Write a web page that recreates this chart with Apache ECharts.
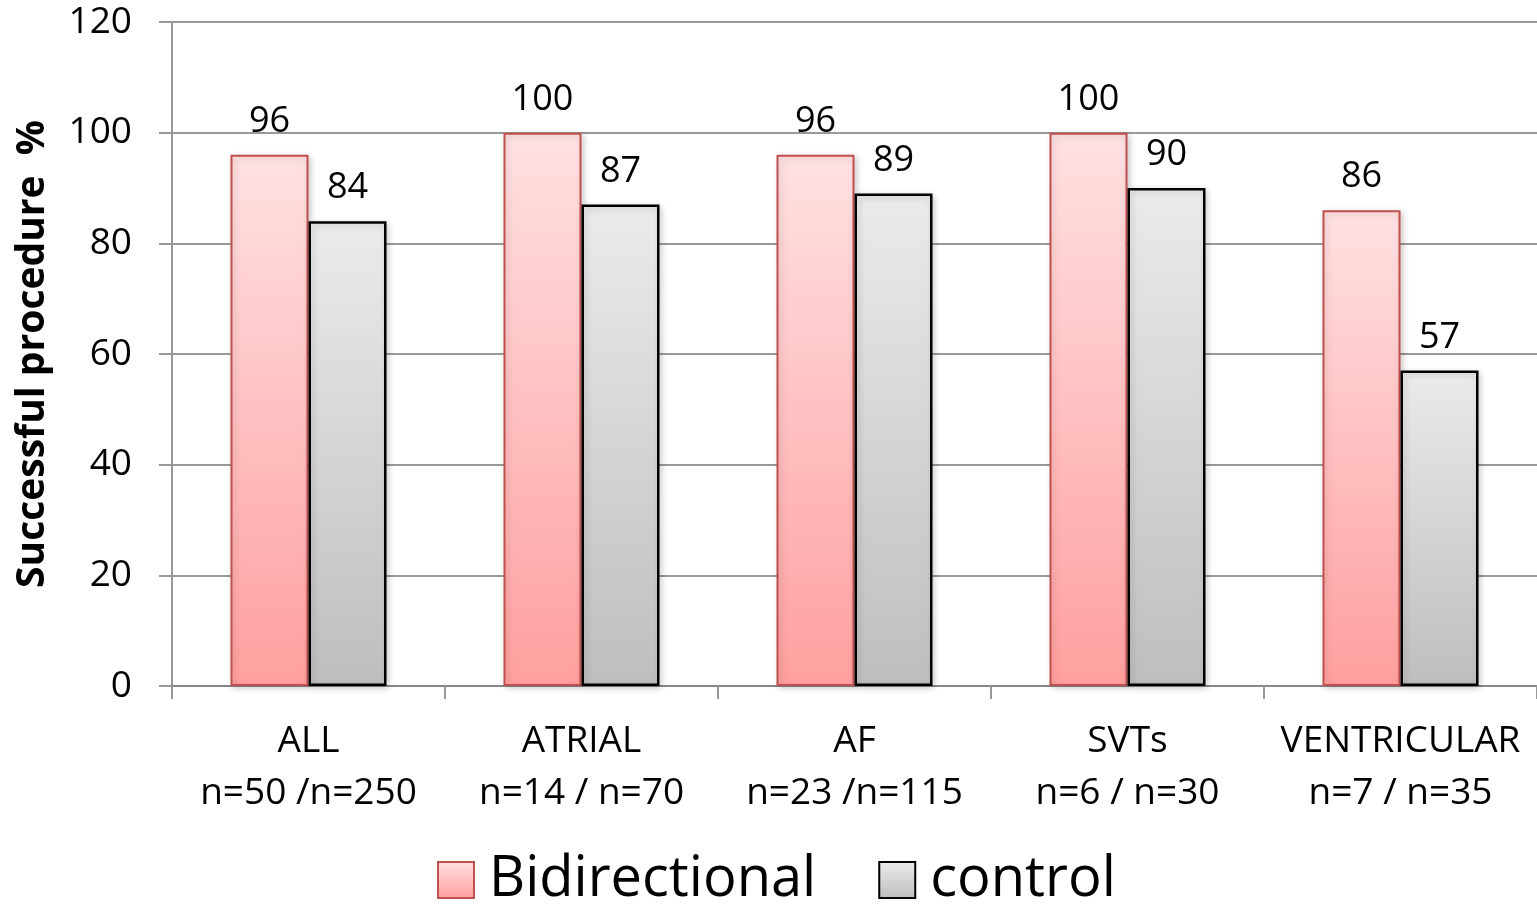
<!DOCTYPE html>
<html>
<head>
<meta charset="utf-8">
<script src="https://cdn.jsdelivr.net/npm/echarts@6/dist/echarts.min.js"></script>
<style>
html,body{margin:0;padding:0;background:#fff;}
#chart{width:1537px;height:905px;}
</style>
</head>
<body>
<div id="chart"></div>
<script>
const categories = ['ALL\nn=50 /n=250', 'ATRIAL\nn=14 / n=70', 'AF\nn=23 /n=115', 'SVTs\nn=6 / n=30', 'VENTRICULAR\nn=7 / n=35'];
const bidirectional = [96, 100, 96, 100, 86];
const control = [84, 87, 89, 90, 57];
const seriesNames = ['Bidirectional', 'control'];
const yTitle = 'Successful procedure  %';

const FONT = '"Open Sans", sans-serif';
const chart = echarts.init(document.getElementById('chart'));

const pinkGrad = new echarts.graphic.LinearGradient(0, 0, 0, 1, [
  {offset: 0, color: '#FFE1E2'}, {offset: 1, color: '#FF9F9F'}]);
const grayGrad = new echarts.graphic.LinearGradient(0, 0, 0, 1, [
  {offset: 0, color: '#EBEBEB'}, {offset: 1, color: '#BEBEBE'}]);

chart.setOption({
  animation: false,
  backgroundColor: '#fff',
  textStyle: {fontFamily: FONT},
  grid: {left: 172, right: 0, top: 22, bottom: 219, containLabel: false},
  legend: {
    data: seriesNames,
    top: 847,
    left: 432,
    itemWidth: 36,
    itemHeight: 36,
    itemGap: 62,
    textStyle: {fontSize: 56, color: '#000', fontFamily: FONT, padding: [0, 0, 0, 10]},
    icon: 'rect'
  },
  xAxis: {
    type: 'category',
    data: categories,
    axisLine: {lineStyle: {color: '#888', width: 2}},
    axisTick: {show: true, interval: 0, length: 13, lineStyle: {color: '#999', width: 2}},
    axisLabel: {
      interval: 0, fontSize: 37, color: '#000', fontFamily: FONT, margin: 29, lineHeight: 52
    }
  },
  yAxis: {
    type: 'value',
    min: 0, max: 120, interval: 20,
    name: yTitle,
    nameLocation: 'middle',
    nameGap: 120,
    nameTextStyle: {fontSize: 39, fontWeight: 'bold', color: '#000', fontFamily: FONT},
    axisLine: {show: true, lineStyle: {color: '#999', width: 2}},
    axisTick: {show: true, length: 13, lineStyle: {color: '#999', width: 2}},
    axisLabel: {fontSize: 37, color: '#000', fontFamily: FONT, margin: 40},
    splitLine: {lineStyle: {color: '#999', width: 2}}
  },
  series: [
    {
      name: seriesNames[0],
      type: 'bar',
      data: bidirectional,
      barWidth: 78,
      barGap: '0%',
      itemStyle: {color: pinkGrad, borderColor: '#C0504D', borderWidth: 2,
        shadowColor: 'rgba(0,0,0,0.18)', shadowBlur: 6, shadowOffsetX: 2, shadowOffsetY: 2},
      label: {show: true, position: 'top', distance: 15, fontSize: 36, color: '#000', fontFamily: FONT}
    },
    {
      name: seriesNames[1],
      type: 'bar',
      data: control,
      barWidth: 78,
      barGap: '0%',
      itemStyle: {color: grayGrad, borderColor: '#000', borderWidth: 2.5,
        shadowColor: 'rgba(0,0,0,0.18)', shadowBlur: 6, shadowOffsetX: 2, shadowOffsetY: 2},
      label: {show: true, position: 'top', distance: 15, fontSize: 36, color: '#000', fontFamily: FONT}
    }
  ]
});
</script>
</body>
</html>
